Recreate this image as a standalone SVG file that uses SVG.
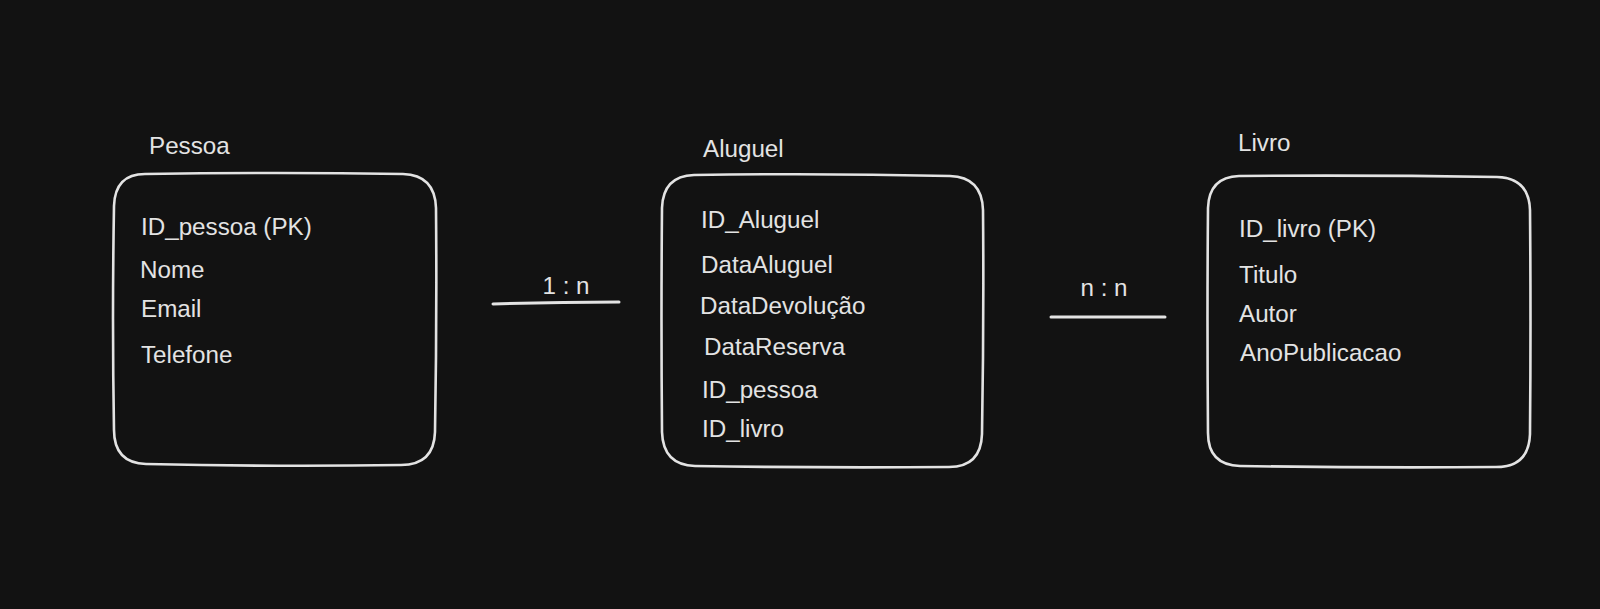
<svg xmlns="http://www.w3.org/2000/svg" width="1600" height="609" viewBox="0 0 1600 609">
<style>
.box{fill:#121212;stroke:#e3e3e3;stroke-width:2.6;stroke-linecap:round;stroke-linejoin:round}
.t{fill:#e3e3e3;font-family:"Liberation Sans",Arial,Helvetica,sans-serif;font-size:24.2px}
.c{fill:none;stroke:#e3e3e3;stroke-width:3;stroke-linecap:round}
</style>
<rect width="1600" height="609" fill="#121212"/>
<g id="pessoa">
<path class="box" d="M145,174 Q280,172 403,174 Q435,175 436,208 Q437,320 435,432 Q434,465 401,465 Q280,467 146,464 Q114,463 114,430 Q112,320 114,206 Q115,174 145,174 Z"/>
<text class="t" x="149" y="154">Pessoa</text>
<text class="t" x="141" y="235">ID_pessoa (PK)</text>
<text class="t" x="140" y="278">Nome</text>
<text class="t" x="141" y="317">Email</text>
<text class="t" x="141" y="363">Telefone</text>
</g>
<g id="aluguel">
<path class="box" d="M694,175 Q820,173 950,176 Q982,177 983,210 Q984,320 982,434 Q981,467 949,467 Q820,468 695,466 Q663,465 662,432 Q661,320 662,208 Q663,176 694,175 Z"/>
<text class="t" x="703" y="157">Aluguel</text>
<text class="t" x="701" y="228">ID_Aluguel</text>
<text class="t" x="701" y="273">DataAluguel</text>
<text class="t" x="700" y="314">DataDevolução</text>
<text class="t" x="704" y="355">DataReserva</text>
<text class="t" x="702" y="398">ID_pessoa</text>
<text class="t" x="702" y="437">ID_livro</text>
</g>
<g id="livro">
<path class="box" d="M1239,176 Q1370,175 1497,177 Q1529,178 1530,210 Q1531,320 1530,434 Q1529,467 1496,467 Q1370,468 1240,466 Q1208,465 1208,433 Q1207,320 1208,208 Q1209,177 1239,176 Z"/>
<text class="t" x="1238" y="151">Livro</text>
<text class="t" x="1239" y="237">ID_livro (PK)</text>
<text class="t" x="1239" y="283">Titulo</text>
<text class="t" x="1239" y="322">Autor</text>
<text class="t" x="1240" y="361">AnoPublicacao</text>
</g>
<g id="connectors">
<path class="c" d="M493,304 Q555,302 619,302"/>
<text class="t" x="566" y="294" text-anchor="middle">1 : n</text>
<path class="c" d="M1051,317 Q1108,317 1165,317"/>
<text class="t" x="1104" y="296" text-anchor="middle">n : n</text>
</g>
</svg>
